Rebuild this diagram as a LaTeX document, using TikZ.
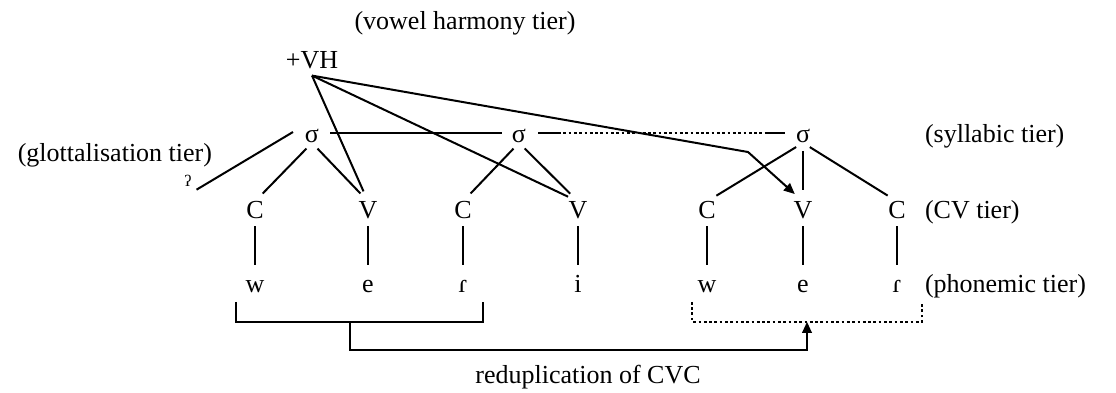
\documentclass[tikz,border=0pt]{standalone}
\usepackage{fontspec}
\setmainfont{Liberation Serif}
\usetikzlibrary{arrows.meta,calc}

\begin{document}
\begin{tikzpicture}[x=1pt,y=-1pt,
  every node/.style={inner sep=0pt,outer sep=0pt,font=\fontsize{26}{31}\selectfont},
  cvseg/.style={text height=17.2pt,text depth=0pt},
  phseg/.style={text height=11.7pt,text depth=0pt},
  syl/.style={text height=11.7pt,text depth=0pt},
  tierlabel/.style={anchor=base west},
  link/.style={line width=2pt},
  assoc/.style={link,shorten <=8pt,shorten >=11pt},
  spine/.style={link,shorten <=7.4pt,shorten >=16pt},
  dots/.style={line width=2pt,dash pattern=on 2.7pt off 2.6pt},
  tip/.style={-{Triangle[length=11pt,width=9.5pt]}}
]
\useasboundingbox (0,0) rectangle (1116,392);

% vowel harmony tier
\node (vhl) at (465,23) {(vowel harmony tier)};
\node[cvseg] (vh) at (312,60) {+VH};
\coordinate (vhroot) at ([yshift=-7pt]vh.south);

% syllabic tier
\node[syl] (s1) at (312,137) {σ};
\node[syl] (s2) at (519,137) {σ};
\node[syl] (s3) at (803,137) {σ};
\node[tierlabel] (sylL) at (925,142.8) {(syllabic tier)};

% glottalisation tier
\node[anchor=base east] (gloL) at (212,161) {(glottalisation tier)};
\node[font=\fontsize{16}{19}\selectfont] (gs) at (188,181) {ʔ};

% CV tier
\node[cvseg] (c1) at (255,210) {C};
\node[cvseg] (v1) at (368,210) {V};
\node[cvseg] (c2) at (463,210) {C};
\node[cvseg] (v2) at (578,210) {V};
\node[cvseg] (c3) at (707,210) {C};
\node[cvseg] (v3) at (803,210) {V};
\node[cvseg] (c4) at (897,210) {C};
\node[tierlabel] (cvL) at (925,218.6) {(CV tier)};

% phonemic tier
\node[phseg] (p1) at (255,287) {w};
\node[phseg] (p2) at (368,287) {e};
\node[phseg] (p3) at (463,287) {ɾ};
\node[phseg] (p4) at (578,287) {i};
\node[phseg] (p5) at (707,287) {w};
\node[phseg] (p6) at (803,287) {e};
\node[phseg] (p7) at (897,287) {ɾ};
\node[tierlabel] (phL) at (925,292.85) {(phonemic tier)};

\node (redup) at (588,377) {reduplication of CVC};

% syllable links
\draw[link] ([shift={(5pt,-3pt)}]gs.south east) -- ([shift={(-12pt,5pt)}]s1.west);
\draw[link,shorten <=11pt,shorten >=10pt] ([yshift=4pt]s1.east) -- ([yshift=4pt]s2.west);
\path ([yshift=4pt]s2.east) ++(12,0) coordinate (d1) ++(20,0) coordinate (d2);
\path ([yshift=4pt]s3.west) ++(-11,0) coordinate (d4) ++(-18,0) coordinate (d3);
\draw[link] (d1) -- (d2);
\draw[dots] (d2) -- (d3);
\draw[link] (d3) -- (d4);

\draw[assoc] (s1.south) -- (c1.north);
\draw[assoc] (s1.south) -- (v1.north);
\draw[assoc] (s2.south) -- (c2.north);
\draw[assoc] (s2.south) -- (v2.north);
\draw[assoc] (s3.south) -- (c3.north);
\draw[assoc] (s3.south) -- (v3.north);
\draw[assoc] (s3.south) -- (c4.north);

% harmony spreading
\draw[link,shorten >=11pt] (vhroot) -- (v1.north);
\draw[link,shorten >=11pt] (vhroot) -- (v2.north);
\coordinate (vhbend) at (748,152);
\draw[link,tip,shorten >=11pt] (vhroot) -- (vhbend) -- (v3.north);

% CV slots to segments
\draw[spine] (c1.south) -- (p1.north);
\draw[spine] (v1.south) -- (p2.north);
\draw[spine] (c2.south) -- (p3.north);
\draw[spine] (v2.south) -- (p4.north);
\draw[spine] (c3.south) -- (p5.north);
\draw[spine] (v3.south) -- (p6.north);
\draw[spine] (c4.south) -- (p7.north);

% reduplication brackets
\draw[link] ($(p1.south)+(-19,9)$) -- ++(0,20) -| ($(p3.south)+(20,9)$);
\draw[dots] ($(p5.south)+(-15,9)$) -- ++(0,20) -| ($(p7.south)+(25,9)$);
\coordinate (lb) at ($(p1.south)+(95,29)$);
\coordinate (rb) at ($(p6.south)+(4,29)$);
\draw[link,tip] (lb) -- ++(0,28) -| (rb);
\end{tikzpicture}
\end{document}
